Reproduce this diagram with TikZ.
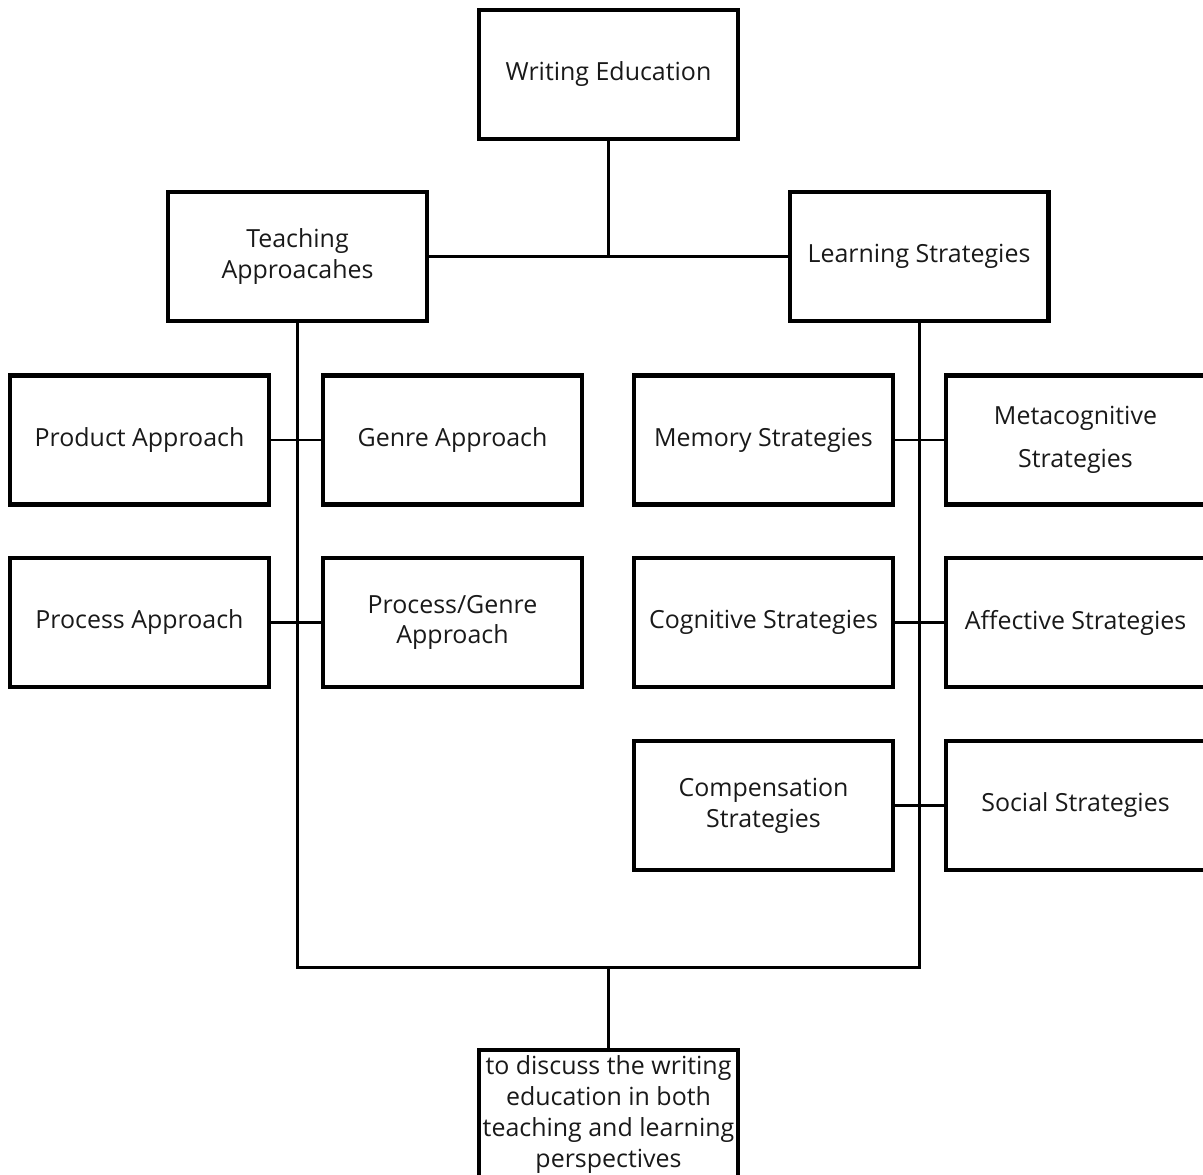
\documentclass[tikz,border=0pt]{standalone}
\usepackage{fontspec}
\setmainfont{Open Sans}
\usetikzlibrary{positioning}

\tikzset{
  box/.style={draw, line width=2.3pt, minimum width=5.18cm, minimum height=2.58cm,
    inner sep=0pt, align=center, text=black!90},
  link/.style={line width=1.7pt}
}

\begin{document}
\begin{tikzpicture}[x=0.02cm, y=-0.02cm, font=\fontsize{14.2}{17.6}\selectfont]
  \clip (0,0) rectangle (1203,1175);
  \useasboundingbox (0,0) rectangle (1203,1175);

  % top levels
  \node[box] (wri) at (608.5,74.5) {Writing Education};
  \node[box] (teach) at (297.5,256.5) {Teaching\\Approacahes};
  \node[box] (learn) at (919,256.5) {Learning Strategies};

  % teaching approaches
  \foreach \name/\x/\y/\txt in {prod/139.5/440/Product Approach, genre/452.5/440/Genre Approach,
      proc/139.5/622.5/Process Approach, pgen/452.5/622.5/{Process/Genre\\Approach}} {
    \node[box] (\name) at (\x,\y) {\txt};
  }

  % learning strategies
  \foreach \name/\x/\y/\txt in {mem/763.5/440/Memory Strategies, meta/1075.5/440/{Metacognitive\\[7pt]Strategies},
      cog/763.5/622.5/Cognitive Strategies, aff/1075.5/622.5/Affective Strategies,
      comp/763.5/805.5/{Compensation\\Strategies}, soc/1075.5/805.5/Social Strategies} {
    \node[box] (\name) at (\x,\y) {\txt};
  }

  \node[box, anchor=north] (goal) at (608.5,1048) {to discuss the writing\\education in both\\teaching and learning\\perspectives};
  \coordinate (bar) at (608.5,967);

  % connectors
  \draw[link] (wri.south) -- (wri.south |- teach.east);
  \draw[link] (teach.east) -- (learn.west);
  \draw[link] (teach.south) |- (bar) -| (learn.south);
  \draw[link] (bar) -- (goal.north);
  \foreach \a/\b in {prod/genre, proc/pgen, mem/meta, cog/aff, comp/soc} {
    \draw[link] (\a.east) -- (\b.west);
  }
\end{tikzpicture}
\end{document}
